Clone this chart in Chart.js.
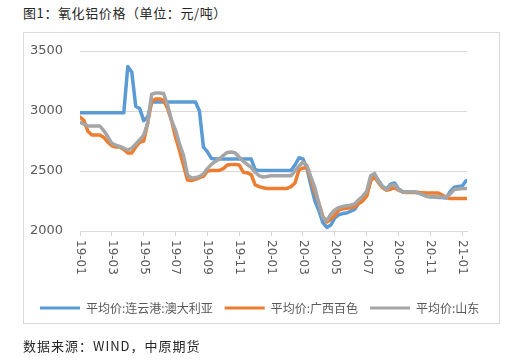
<!DOCTYPE html>
<html lang="zh">
<head>
  <meta charset="UTF-8">
  <title>氧化铝价格</title>
  <script src="https://cdn.jsdelivr.net/npm/chart.js"></script>
  <style>
    body {
      margin: 0;
      width: 518px;
      height: 361px;
      background: #fff;
      position: relative;
      overflow: hidden;
      font-family: "Noto Sans CJK SC", sans-serif;
      color: #262626;
    }
    #title { position: absolute; left: 23px; top: 3px; font-size: 13px; letter-spacing: 0.6px; white-space: nowrap; }
    #source { position: absolute; left: 23px; top: 336px; font-size: 13px; letter-spacing: 1px; white-space: nowrap; }
    #frame {
      position: absolute; left: 23px; top: 32px;
      width: 475px; height: 290px;
      border: 1px solid #d9d9d9;
    }
    #myChart { position: absolute; left: 0; top: 0; }
  </style>
</head>
<body>
  <div id="title">图1：氧化铝价格（单位：元/吨）</div>
  <div id="frame"></div>
  <canvas id="myChart" width="518" height="361"></canvas>
  <div id="source">数据来源：WIND，中原期货</div>

  <script>
    // x positions: months since 2019-01, one point per quarter month
    const monthPos = Array.from({ length: 98 }, (_, i) => i / 4);

    // tick labels, one every two months
    const xLabels = ['19-01', '19-03', '19-05', '19-07', '19-09', '19-11',
      '20-01', '20-03', '20-05', '20-07', '20-09', '20-11', '21-01'];

    const seriesNames = ['平均价:连云港:澳大利亚', '平均价:广西百色', '平均价:山东'];

    const lianyungang = [
      2985, 2985, 2985, 2985, 2985, 2985, 2985, 2985, 2985, 2985, 2985, 2985,
      3370, 3325, 3040, 3020, 2920, 2950, 3075, 3075, 3075, 3075, 3075, 3075,
      3075, 3075, 3075, 3075, 3075, 3075, 3000, 2700, 2660, 2605, 2600, 2600,
      2600, 2600, 2600, 2600, 2600, 2600, 2600, 2600, 2510, 2505, 2505, 2505,
      2505, 2505, 2505, 2505, 2505, 2505, 2550, 2610, 2600, 2520, 2380, 2250,
      2170, 2070, 2030, 2050, 2110, 2135, 2145, 2150, 2165, 2180, 2230, 2255,
      2300, 2420, 2470, 2420, 2370, 2350, 2390, 2400, 2350, 2330, 2325, 2325,
      2325, 2320, 2305, 2290, 2285, 2285, 2280, 2280, 2275, 2330, 2365, 2370,
      2375, 2420
    ];

    const guangxi = [
      2950, 2920, 2830, 2800, 2800, 2800, 2780, 2740, 2710, 2700, 2700, 2680,
      2650, 2650, 2700, 2740, 2750, 2900, 3080, 3100, 3100, 3090, 3020, 2920,
      2780, 2670, 2545, 2425, 2420, 2430, 2445, 2455, 2500, 2505, 2505, 2505,
      2520, 2550, 2555, 2555, 2550, 2490, 2485, 2470, 2385, 2370, 2360, 2355,
      2355, 2355, 2355, 2355, 2355, 2370, 2400, 2510, 2525, 2525, 2430, 2320,
      2230, 2120, 2075, 2100, 2130, 2175, 2185, 2190, 2195, 2200, 2230, 2250,
      2290, 2420, 2450, 2400, 2360, 2340, 2350, 2360, 2340, 2325, 2320, 2320,
      2320, 2320, 2318, 2316, 2316, 2316, 2316, 2300, 2280, 2270, 2270, 2270,
      2270, 2270
    ];

    const shandong = [
      2905, 2890, 2875, 2875, 2875, 2875, 2835, 2785, 2730, 2715, 2705, 2690,
      2675, 2690, 2725, 2760, 2800, 2900, 3140, 3150, 3150, 3145, 3050, 2920,
      2840, 2725, 2630, 2467, 2440, 2445, 2455, 2475, 2520, 2555, 2580, 2600,
      2630, 2655, 2658, 2650, 2615, 2580, 2555, 2530, 2490, 2460, 2450, 2455,
      2460, 2460, 2460, 2460, 2460, 2460, 2500, 2540, 2575, 2545, 2450, 2360,
      2230, 2110, 2090, 2140, 2175, 2195, 2205, 2210, 2215, 2225, 2260, 2290,
      2330, 2460, 2480, 2410, 2370, 2345, 2380, 2385, 2345, 2325, 2325, 2325,
      2325, 2315, 2305, 2290, 2285, 2283, 2283, 2283, 2283, 2310, 2345, 2350,
      2355, 2355
    ];

    const colors = ['#5B9BD5', '#ED7D31', '#A5A5A5'];
    const fontFamily = '"Noto Sans CJK SC", sans-serif';
    const numFont = '"DejaVu Sans", sans-serif';

    function toPoints(values) {
      return values.map((v, i) => ({ x: monthPos[i], y: v }));
    }

    // x tick labels read top-to-bottom, so draw them ourselves
    const verticalLabels = {
      id: 'verticalLabels',
      afterDraw(chart) {
        const s = chart.scales.x;
        const ctx = chart.ctx;
        ctx.save();
        ctx.font = '12px ' + numFont;
        ctx.fillStyle = '#595959';
        ctx.textAlign = 'left';
        ctx.textBaseline = 'middle';
        s.ticks.forEach(t => {
          const label = xLabels[Math.round(t.value / 2)];
          if (!label) return;
          ctx.save();
          ctx.translate(s.getPixelForValue(t.value), s.top + 9);
          ctx.rotate(Math.PI / 2);
          ctx.fillText(label, 0, 0);
          ctx.restore();
        });
        ctx.restore();
      }
    };

    const seriesList = [lianyungang, guangxi, shandong];

    new Chart(document.getElementById('myChart').getContext('2d'), {
      type: 'line',
      data: {
        datasets: seriesList.map((vals, k) => ({
          label: seriesNames[k],
          data: toPoints(vals),
          borderColor: colors[k],
          backgroundColor: colors[k],
          borderWidth: 3.5,
          pointRadius: 0,
          tension: 0,
          borderJoinStyle: 'round',
          borderCapStyle: 'round',
          yAxisID: 'y',
          order: 3 - k,
        })),
      },
      options: {
        responsive: false,
        animation: false,
        devicePixelRatio: 1,
        layout: { padding: { left: 28, right: 25, top: 51, bottom: 37 } },
        plugins: {
          tooltip: { enabled: false },
          legend: {
            position: 'bottom',
            align: 'start',
            labels: {
              boxWidth: 40,
              boxHeight: 3,
              padding: 12,
              color: '#595959',
              font: { size: 12, family: fontFamily },
              sort: (a, b) => a.datasetIndex - b.datasetIndex,
              generateLabels: chart =>
                Chart.defaults.plugins.legend.labels.generateLabels(chart)
                  .map(item => Object.assign(item, { lineWidth: 0 })),
            },
          },
        },
        scales: {
          x: {
            type: 'linear',
            min: 0,
            max: 24.3,
            ticks: { stepSize: 2, includeBounds: false, display: false },
            grid: { drawOnChartArea: false, drawTicks: true, tickLength: 5, color: '#d9d9d9' },
            border: { color: '#d9d9d9' },
            afterFit: s => { s.height = 59; },
          },
          y: {
            min: 2000,
            max: 3500,
            ticks: {
              stepSize: 500,
              padding: 17,
              color: '#595959',
              font: { size: 13, family: numFont },
              callback: v => String(v),
            },
            grid: { color: '#d9d9d9', drawTicks: false },
            border: { display: false },
            afterFit: s => { s.width = 52; },
          },
          // empty right-hand spacer so the plot ends where the reference does
          spacer: {
            type: 'linear',
            position: 'right',
            ticks: { display: false },
            grid: { display: false },
            border: { display: false },
            afterFit: s => { s.width = 26; },
          },
        },
      },
      plugins: [verticalLabels],
    });
  </script>
</body>
</html>
